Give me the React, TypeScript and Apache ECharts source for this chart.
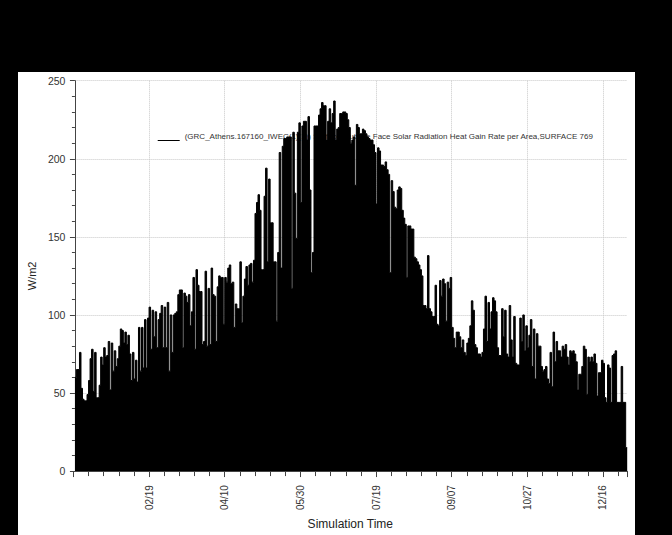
import React, { useEffect, useRef } from "react";
import * as echarts from "echarts";

// Daily peak values (W/m2), one per day of the year
const janPeaks = [60, 65, 65, 76, 53, 46, 45, 45, 49, 58, 72, 78, 51, 76, 47, 47, 55, 73, 68, 79, 73, 74, 83, 52, 82, 64, 77, 67, 72, 80, 91];
const febPeaks = [90, 82, 89, 81, 87, 75, 58, 76, 59, 71, 57, 92, 64, 92, 66, 97, 66, 98, 105, 78, 103, 86, 102, 79, 97, 101, 106, 79];
const marPeaks = [105, 79, 108, 64, 100, 76, 100, 101, 102, 113, 116, 116, 79, 114, 112, 108, 113, 93, 102, 124, 78, 129, 119, 115, 115, 81, 83, 128, 80, 117, 81];
const aprPeaks = [130, 113, 112, 83, 118, 125, 124, 124, 94, 124, 121, 130, 132, 120, 121, 92, 107, 104, 104, 134, 95, 112, 123, 131, 119, 132, 133, 121, 135, 165];
const mayPeaks = [172, 177, 167, 129, 129, 176, 194, 134, 187, 159, 159, 134, 134, 96, 140, 204, 130, 208, 213, 213, 214, 214, 214, 117, 217, 178, 149, 217, 223, 172, 221];
const junPeaks = [224, 224, 212, 227, 180, 127, 140, 221, 221, 221, 228, 232, 236, 234, 234, 212, 224, 232, 223, 229, 237, 212, 219, 220, 229, 229, 230, 230, 229, 225];
const julPeaks = [220, 210, 212, 214, 183, 222, 220, 216, 216, 219, 218, 216, 214, 213, 212, 212, 209, 204, 171, 207, 205, 196, 196, 195, 198, 193, 190, 127, 186, 179, 169];
const augPeaks = [168, 180, 182, 181, 167, 162, 158, 124, 157, 157, 155, 155, 137, 136, 134, 132, 129, 125, 106, 106, 104, 138, 104, 102, 99, 99, 119, 94, 93, 122, 112];
const sepPeaks = [123, 120, 96, 121, 117, 124, 92, 85, 79, 89, 89, 86, 79, 84, 76, 74, 82, 85, 93, 109, 103, 81, 79, 75, 75, 73, 76, 91, 112, 83];
const octPeaks = [108, 91, 102, 111, 109, 102, 79, 74, 74, 104, 86, 103, 75, 73, 106, 84, 73, 99, 69, 68, 68, 98, 83, 100, 77, 93, 79, 87, 97, 67, 91];
const novPeaks = [59, 88, 80, 80, 67, 64, 65, 67, 59, 56, 76, 54, 89, 70, 83, 77, 77, 73, 80, 78, 81, 73, 68, 77, 76, 77, 75, 70, 52, 62];
const decPeaks = [62, 67, 80, 78, 49, 73, 70, 73, 70, 75, 69, 48, 63, 63, 71, 69, 47, 44, 68, 66, 44, 74, 75, 77, 44, 44, 44, 67, 44, 44, 15];

const xTickLabels = ["02/19", "04/10", "05/30", "07/19", "09/07", "10/27", "12/16"];
const seriesName =
  "(GRC_Athens.167160_IWEC(1)(1)) Surface Outside Face Solar Radiation Heat Gain Rate per Area,SURFACE 769";

const SANS = "'Liberation Sans', Arial, sans-serif";

export default function App() {
  const ref = useRef<HTMLDivElement>(null);

  useEffect(() => {
    document.body.style.margin = "0";
    if (!ref.current) return;
    const chart = echarts.init(ref.current, null, { renderer: "svg" });

    const daily = [
      ...janPeaks, ...febPeaks, ...marPeaks, ...aprPeaks, ...mayPeaks, ...junPeaks,
      ...julPeaks, ...augPeaks, ...sepPeaks, ...octPeaks, ...novPeaks, ...decPeaks,
    ];
    const data: [number, number][] = daily.map((v, i) => [i, v]);
    data.push([daily.length, daily[daily.length - 1]]);

    chart.setOption({
      animation: false,
      grid: { left: 49.2, top: 8.7, width: 560, height: 393.3 },
      legend: {
        data: [seriesName],
        left: 134.7,
        top: 54,
        z: 1,
        selectedMode: false,
        icon: "path://M0,0 L0.01,0 L0.01,0.01 Z M0,9 L22,9 L22,10 L0,10 Z",
        itemWidth: 22,
        itemHeight: 10,
        itemGap: 0,
        textStyle: { fontSize: 8, fontFamily: SANS, color: "#333" },
      },
      xAxis: {
        type: "value",
        min: -1,
        max: 365,
        interval: 50,
        offset: 6,
        name: "Simulation Time",
        nameLocation: "middle",
        nameGap: 37,
        nameTextStyle: { fontSize: 12, fontFamily: SANS, color: "#222" },
        axisLine: { show: true, lineStyle: { color: "#444", width: 1 } },
        axisTick: { show: true, length: 6, lineStyle: { color: "#444" } },
        minorTick: { show: true, splitNumber: 5, length: 5, lineStyle: { color: "#444" } },
        axisLabel: {
          rotate: 90,
          margin: 8,
          fontSize: 10,
          fontFamily: SANS,
          color: "#333",
          formatter: (v: number) => {
            const idx = Math.round((v + 1) / 50) - 1;
            if (Math.abs((idx + 1) * 50 - 1 - v) > 0.01) return "";
            return xTickLabels[idx] ?? "";
          },
        },
        splitLine: {
          show: true,
          showMinLine: false,
          showMaxLine: false,
          lineStyle: { type: "dotted", color: "#c8c8c8", width: 1 },
        },
      },
      yAxis: {
        type: "value",
        min: 0,
        max: 250,
        interval: 50,
        offset: 4,
        name: "W/m2",
        nameLocation: "middle",
        nameGap: 25,
        nameTextStyle: { fontSize: 11, fontFamily: SANS, color: "#222" },
        axisLine: { show: true, lineStyle: { color: "#444", width: 1 } },
        axisTick: { show: true, length: 5, lineStyle: { color: "#444" } },
        minorTick: { show: true, splitNumber: 5, length: 3, lineStyle: { color: "#444" } },
        axisLabel: { fontSize: 10.5, fontFamily: SANS, color: "#333", margin: 4 },
        splitLine: { show: true, lineStyle: { type: "dotted", color: "#c8c8c8", width: 1 } },
      },
      series: [
        {
          type: "line",
          name: seriesName,
          step: "end",
          symbol: "none",
          z: 2,
          data,
          itemStyle: { color: "#000" },
          lineStyle: { color: "#000", width: 1 },
          areaStyle: { color: "#000", opacity: 1 },
        },
      ],
    });

    return () => chart.dispose();
  }, []);

  return (
    <div style={{ position: "fixed", left: 0, top: 0, width: 672, height: 535, background: "#000" }}>
      <div
        ref={ref}
        style={{ position: "absolute", left: 18, top: 72, width: 617, height: 463, background: "#fff" }}
      />
    </div>
  );
}
